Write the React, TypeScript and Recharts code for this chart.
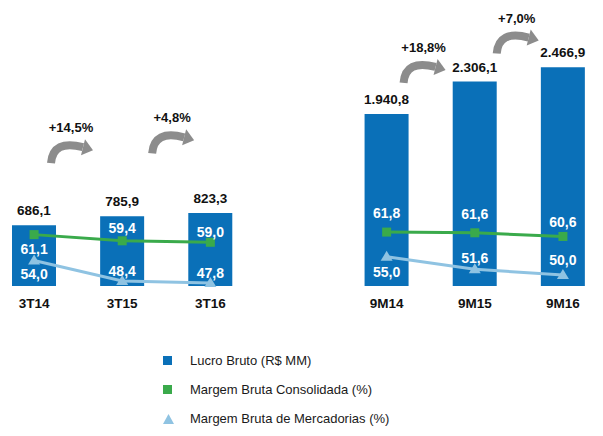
import React from "react";
import {
  Bar,
  ComposedChart,
  LabelList,
  Line,
  XAxis,
  YAxis,
} from "recharts";

const categories = ["3T14", "3T15", "3T16", " ", "9M14", "9M15", "9M16"];
const lucroBruto = [686.1, 785.9, 823.3, null, 1940.8, 2306.1, 2466.9];
const margemConsolidada = [61.1, 59.4, 59.0, null, 61.8, 61.6, 60.6];
const margemMercadorias = [54.0, 48.4, 47.8, null, 55.0, 51.6, 50.0];
const crescimento = ["+14,5%", "+4,8%", null, null, "+18,8%", "+7,0%", null];

const legendItems = [
  { label: "Lucro Bruto (R$ MM)", shape: "square", color: "#0a70b8" },
  { label: "Margem Bruta Consolidada (%)", shape: "square", color: "#3aaa4b" },
  { label: "Margem Bruta de Mercadorias (%)", shape: "triangle", color: "#8fc3e2" },
];

// label placement (px offsets), kept apart from the values
const greenLabelDy = [14, -13, -10, 0, -19, -19, -14];
const blueLabelDy = [14, -10, -10, 0, 15, -11, -15];
const arrowLayout = [
  { lift: 62, dx: -5 },
  { lift: 63, dx: 8 },
  null,
  null,
  { lift: 31, dx: -5 },
  { lift: 28, dx: 0 },
  null,
];

const BLUE = "#0a70b8";
const GREEN = "#3aaa4b";
const LIGHT = "#8fc3e2";
const FONT = "'Liberation Sans', Arial, sans-serif";

const data = categories.map((c, i) => ({
  name: c,
  lucro: lucroBruto[i],
  consolidada: margemConsolidada[i],
  mercadorias: margemMercadorias[i],
}));

function fmt(v: number) {
  const [int, dec] = v.toFixed(1).split(".");
  return int.replace(/\B(?=(\d{3})+(?!\d))/g, ".") + "," + dec;
}

function BarLabel(props: any) {
  const { x, y, width, value } = props;
  if (value == null) return null;
  // LabelList skips empty bars, so find the category from the value
  const i = lucroBruto.indexOf(value);
  const growth = crescimento[i];
  const arrow = arrowLayout[i];
  return (
    <g>
      <text
        x={x + width / 2}
        y={y - 10}
        textAnchor="middle"
        fontSize={13.5}
        fontWeight="bold"
        fill="#111"
        fontFamily={FONT}
      >
        {fmt(value)}
      </text>
      {growth && arrow && (
        <GrowthArrow
          sx={x + width + arrow.dx}
          sy={y - arrow.lift}
          text={growth}
        />
      )}
    </g>
  );
}

function GrowthArrow({ sx, sy, text }: { sx: number; sy: number; text: string }) {
  return (
    <g>
      <path
        d={`M ${sx} ${sy} Q ${sx + 2} ${sy - 24} ${sx + 32} ${sy - 16}`}
        fill="none"
        stroke="#8c8c8c"
        strokeWidth={8}
      />
      <polygon
        points={`${sx + 34} ${sy - 24} ${sx + 42} ${sy - 13} ${sx + 30} ${sy - 8}`}
        fill="#8c8c8c"
      />
      <text
        x={sx + 20}
        y={sy - 31}
        textAnchor="middle"
        fontSize={13}
        fontWeight="bold"
        fill="#111"
        fontFamily={FONT}
      >
        {text}
      </text>
    </g>
  );
}

function lineLabel(offsets: number[]) {
  return (props: any) => {
    const { x, y, value, index } = props;
    if (value == null) return null;
    return (
      <text
        x={x}
        y={y + offsets[index] + 5}
        textAnchor="middle"
        fontSize={14}
        fontWeight="bold"
        fill="#fff"
        fontFamily={FONT}
      >
        {fmt(value)}
      </text>
    );
  };
}

function SquareDot(props: any) {
  const { cx, cy, index } = props;
  if (cx == null || cy == null) return <g key={index} />;
  return <rect key={index} x={cx - 4.5} y={cy - 4.5} width={9} height={9} fill={GREEN} />;
}

function TriangleDot(props: any) {
  const { cx, cy, index } = props;
  if (cx == null || cy == null) return <g key={index} />;
  return (
    <polygon
      key={index}
      points={`${cx} ${cy - 6} ${cx + 6} ${cy + 4} ${cx - 6} ${cy + 4}`}
      fill={LIGHT}
    />
  );
}

function CategoryTick(props: any) {
  const { x, y, payload } = props;
  return (
    <text
      x={x}
      y={y + 22}
      textAnchor="middle"
      fontSize={13.5}
      fontWeight="bold"
      fill="#111"
      fontFamily={FONT}
    >
      {payload.value}
    </text>
  );
}

export default function App() {
  return (
    <div
      style={{
        position: "relative",
        width: 603,
        height: 436,
        margin: -8,
        overflow: "hidden",
        background: "#fff",
        fontFamily: FONT,
      }}
    >
      <div style={{ position: "absolute", left: -10, top: 0 }}>
        <ComposedChart
          width={617}
          height={316}
          data={data}
          margin={{ top: 20, right: 0, bottom: 0, left: 0 }}
        >
          <XAxis
            dataKey="name"
            axisLine={false}
            tickLine={false}
            tickSize={0}
            tickMargin={0}
            height={30}
            interval={0}
            tick={<CategoryTick />}
          />
          <YAxis yAxisId="left" hide domain={[0, 3000]} />
          <YAxis yAxisId="right" hide domain={[47, 120]} />
          <Bar
            yAxisId="left"
            dataKey="lucro"
            fill={BLUE}
            barSize={44}
            isAnimationActive={false}
          >
            <LabelList dataKey="lucro" content={<BarLabel />} />
          </Bar>
          <Line
            yAxisId="right"
            dataKey="consolidada"
            stroke={GREEN}
            strokeWidth={3}
            dot={<SquareDot />}
            activeDot={false}
            isAnimationActive={false}
          >
            <LabelList dataKey="consolidada" content={lineLabel(greenLabelDy)} />
          </Line>
          <Line
            yAxisId="right"
            dataKey="mercadorias"
            stroke={LIGHT}
            strokeWidth={3}
            dot={<TriangleDot />}
            activeDot={false}
            isAnimationActive={false}
          >
            <LabelList dataKey="mercadorias" content={lineLabel(blueLabelDy)} />
          </Line>
        </ComposedChart>
      </div>
      <div style={{ position: "absolute", left: 160, top: 346 }}>
        {legendItems.map((it) => (
          <div
            key={it.label}
            style={{ display: "flex", alignItems: "center", height: 29 }}
          >
            <div style={{ width: 30, display: "flex", paddingLeft: 3, boxSizing: "border-box" }}>
              {it.shape === "square" ? (
                <div style={{ width: 9, height: 9, background: it.color }} />
              ) : (
                <svg width={11} height={10}>
                  <polygon points="5.5 0 11 10 0 10" fill={it.color} />
                </svg>
              )}
            </div>
            <span style={{ fontSize: 13, color: "#1a1a1a" }}>{it.label}</span>
          </div>
        ))}
      </div>
    </div>
  );
}
